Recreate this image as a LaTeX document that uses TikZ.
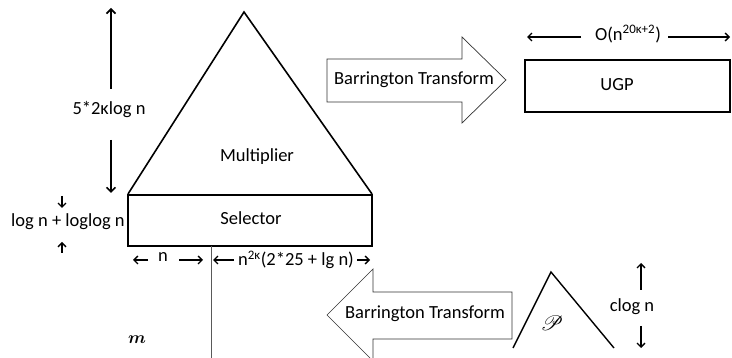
\documentclass[tikz,border=0pt]{standalone}
\usepackage{fontspec}
\setmainfont{Carlito}
\usepackage{bm}
\usepackage{mathrsfs}
\usetikzlibrary{arrows.meta}
\begin{document}
\begin{tikzpicture}[x=1pt,y=-1pt,
  lbl/.style={font=\fontsize{18.5}{22}\selectfont, inner sep=0pt},
  dim/.style={line width=1.6pt, -{Straight Barb[length=4.5pt,width=9pt]}},
  thin dim/.style={line width=1.4pt, -{Straight Barb[length=4pt,width=8pt]}},
  blockarrow/.style={draw=black!80, line width=0.7pt, fill=white},
  shape line/.style={line width=1.6pt, line join=miter},
  boxline/.style={line width=2.2pt}]
\useasboundingbox (0,0) rectangle (732,358);

% Multiplier triangle
\coordinate (apex) at (244,12);
\coordinate (bl) at (128,194);
\coordinate (br) at (372,194);
\draw[shape line] (bl) -- (apex) -- (br);
\node[lbl] (mult) at (257,157) {Multiplier};

% Selector
\draw[boxline] (128,195) rectangle (372,246);
\node[lbl] (sel) at (251,218) {Selector};
\coordinate (vtop) at (211,246);
\coordinate (vbot) at (211,358);
\draw[black!65, line width=1pt] (vtop) -- (vbot);

% 5*2k log n
\node[lbl] (h1) at (109,110) {5*2κlog n};
\coordinate (h1t) at (111,8);
\coordinate (h1b) at (111,193);
\draw[dim] (111,89) -- (h1t);
\draw[dim] (111,140) -- (h1b);

% log n + loglog n
\node[lbl] (h2) at (68,222) {log n + loglog n};
\coordinate (h2t) at (62,208);
\coordinate (h2b) at (62,242);
\draw[thin dim] (62,196) -- (h2t);
\draw[thin dim] (62,253) -- (h2b);

% n widths
\node[lbl] (wn) at (163,257) {n};
\coordinate (wnl) at (133,260);
\coordinate (wnr) at (203,260);
\draw[thin dim] (148,260) -- (wnl);
\draw[thin dim] (179,260) -- (wnr);
\node[lbl] (wm) at (296,260) {n\textsuperscript{2κ}(2*25 + lg n)};
\coordinate (wml) at (213,260);
\coordinate (wmr) at (370,260);
\draw[thin dim] (234,260) -- (wml);
\draw[thin dim] (357,260) -- (wmr);

% m
\node[font=\fontsize{19}{22}\selectfont, inner sep=0pt] (m) at (137,340) {$\bm{m}$};

% upper block arrow
\draw[blockarrow] (327,59) -- (462,59) -- (462,37) -- (506,80) -- (462,123) -- (462,102) -- (327,102) -- cycle;
\node[lbl] (bt1) at (414,80) {Barrington Transform};

% UGP
\draw[boxline] (525,60) rectangle (730,112);
\node[lbl] (ugp) at (617,85) {UGP};
\node[lbl] (ow) at (628,34) {O(n\textsuperscript{20κ+2})};
\coordinate (owl) at (527,37);
\coordinate (owr) at (730,37);
\draw[thin dim] (581,37) -- (owl);
\draw[thin dim] (668,37) -- (owr);

% lower block arrow
\draw[blockarrow] (512,292) -- (373,292) -- (373,269) -- (327,315) -- (373,361) -- (373,339) -- (512,339) -- cycle;
\node[lbl] (bt2) at (425,314) {Barrington Transform};

% P triangle
\coordinate (papex) at (551,272);
\coordinate (pl) at (513,348);
\coordinate (pr) at (614,348);
\draw[shape line, line width=1.4pt] (pl) -- (papex) -- (pr);
\node[font=\fontsize{20}{23}\selectfont, inner sep=0pt] (p) at (552,323) {$\mathscr{P}$};

% clog n
\node[lbl] (cl) at (632,307) {clog n};
\coordinate (clt) at (641,263);
\coordinate (clb) at (641,348);
\draw[thin dim] (641,290) -- (clt);
\draw[thin dim] (641,326) -- (clb);
\end{tikzpicture}
\end{document}
